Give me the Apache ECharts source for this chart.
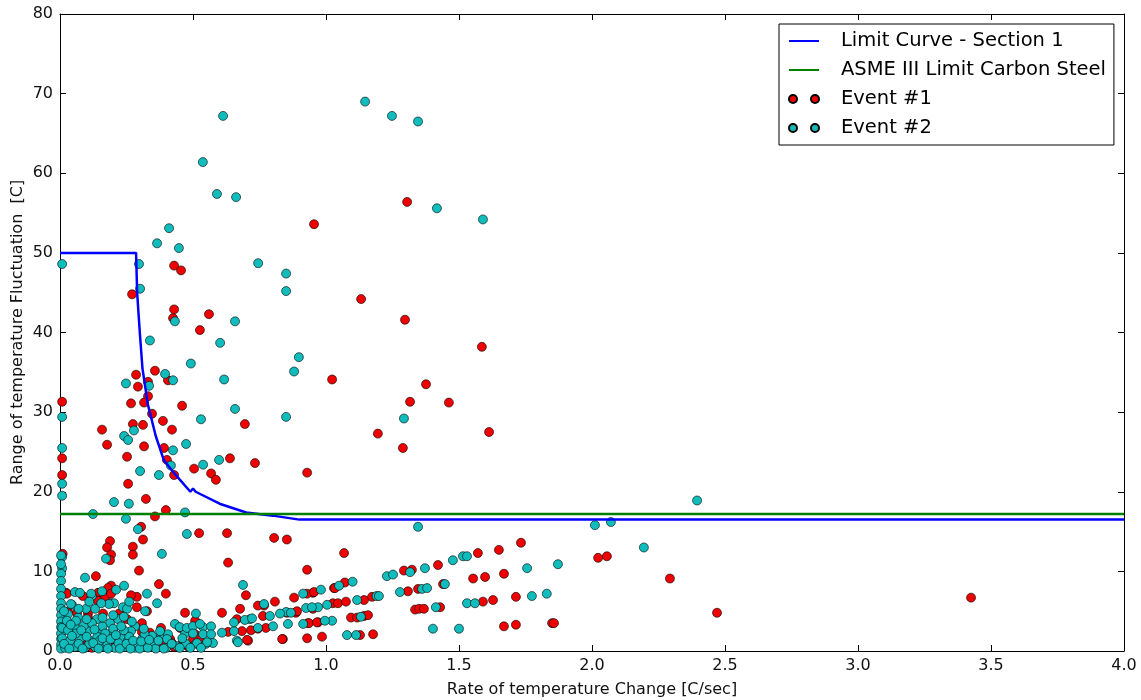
<!DOCTYPE html>
<html>
<head>
<meta charset="utf-8">
<script src="https://cdn.jsdelivr.net/npm/echarts@6/dist/echarts.min.js"></script>
<style>
  html, body { margin: 0; padding: 0; background: #fff; }
  #chart { width: 1141px; height: 700px; }
</style>
</head>
<body>
<div id="chart"></div>
<script>
// limit curve for section 1 [rate C/sec, range C]
const limitCurve = [
  [0, 50], [0.286, 50], [0.29, 45], [0.30, 40], [0.31, 35.5], [0.33, 31], [0.36, 27],
  [0.39, 24], [0.43, 22.3], [0.49, 20.0], [0.50, 20.4], [0.51, 20.0], [0.6, 18.5],
  [0.7, 17.4], [0.8, 17.0], [0.9, 16.5], [4.0, 16.5],
]
const asmeLimit = 17.2
const xRange = [0, 4]

const event1 = [
  [0.955, 53.6], [1.305, 56.4], [1.132, 44.2], [1.297, 41.6], [1.586, 38.2], [1.023, 34.1],
  [1.376, 33.5], [1.316, 31.3], [1.462, 31.2], [1.195, 27.3], [1.613, 27.5], [0.429, 48.4],
  [0.455, 47.8], [0.271, 44.8], [0.429, 42.9], [0.425, 41.8], [0.560, 42.3], [0.526, 40.3],
  [0.357, 35.2], [0.286, 34.7], [0.331, 33.8], [0.406, 34.0], [0.293, 33.2], [0.331, 32.0],
  [0.008, 31.3], [0.267, 31.1], [0.316, 31.2], [0.459, 30.8], [0.346, 29.8], [0.387, 28.9],
  [0.695, 28.5], [0.274, 28.5], [0.312, 28.4], [0.421, 27.8], [0.158, 27.8], [0.177, 25.9],
  [0.316, 25.7], [0.391, 25.5], [0.008, 24.2], [0.252, 24.4], [0.256, 21.0], [0.008, 22.1],
  [0.429, 22.1], [0.402, 24.0], [0.504, 22.9], [0.568, 22.3], [0.586, 21.5], [0.639, 24.2],
  [0.733, 23.6], [0.929, 22.4], [1.289, 25.5], [0.323, 19.1], [0.398, 17.7], [0.357, 16.9],
  [0.305, 15.6], [0.523, 14.8], [0.628, 14.8], [0.805, 14.2], [0.853, 14.0], [0.312, 14.0],
  [0.188, 13.8], [0.177, 13.0], [0.274, 13.1], [0.274, 12.1], [0.192, 12.1], [0.188, 11.4],
  [0.632, 11.1], [0.929, 10.2], [0.297, 10.1], [0.010, 12.2], [0.135, 9.4], [0.372, 8.4],
  [0.398, 7.2], [0.289, 6.8], [0.267, 7.0], [0.192, 8.2], [0.180, 7.7], [0.086, 6.9],
  [0.023, 7.3], [0.147, 7.3], [0.169, 6.7], [0.327, 5.0], [0.470, 4.8], [0.609, 4.8],
  [0.677, 5.3], [0.699, 7.0], [0.767, 5.7], [0.808, 6.2], [0.880, 6.7], [0.951, 7.3],
  [1.030, 7.9], [0.887, 4.8], [1.026, 6.0], [0.932, 3.5], [0.970, 3.6], [0.665, 4.0],
  [0.744, 2.8], [0.838, 1.5], [0.929, 1.6], [0.985, 1.8], [0.707, 1.3],
  [1.068, 12.3], [1.571, 12.3], [1.650, 12.7], [1.733, 13.6], [1.421, 10.8], [1.293, 10.1],
  [1.323, 10.2], [1.553, 9.1], [1.598, 9.3], [1.669, 9.7], [1.440, 8.4], [1.308, 7.5],
  [1.346, 7.8], [1.034, 7.9], [1.071, 8.6], [1.045, 6.0], [1.075, 6.2], [1.143, 6.4],
  [1.173, 6.8], [1.335, 5.2], [1.350, 5.3], [1.368, 5.3], [1.429, 5.5], [1.590, 6.2],
  [1.628, 6.4], [1.714, 6.8], [1.094, 4.2], [1.117, 4.2], [1.143, 4.4], [1.158, 4.5],
  [1.128, 2.0], [1.177, 2.1], [1.669, 3.1], [1.714, 3.3], [1.850, 3.5], [1.857, 3.5],
  [2.023, 11.7], [2.056, 11.9], [2.293, 9.1], [2.470, 4.8], [3.425, 6.7],
  [0.744, 5.7], [0.929, 7.2], [0.955, 7.4], [0.508, 3.8], [0.508, 2.1], [0.632, 2.4],
  [0.684, 2.5], [0.718, 2.6], [0.774, 2.9], [0.763, 4.4], [0.853, 4.8], [0.891, 5.0],
  [0.951, 5.3], [0.936, 3.5], [0.966, 3.6], [0.703, 1.4], [0.835, 1.5],
  [0.180, 7.9], [0.192, 7.2], [0.026, 7.2], [0.143, 7.3], [0.143, 6.3], [0.289, 5.5],
  [0.030, 4.9], [0.064, 4.8], [0.105, 4.7], [0.162, 4.7], [0.222, 4.7], [0.252, 4.0],
  [0.308, 2.4], [0.150, 2.6], [0.338, 2.3], [0.380, 2.9], [0.414, 1.5], [0.451, 2.9],
  [0.526, 1.6], [0.500, 1.5], [0.421, 1.0], [0.387, 0.9], [0.357, 0.4], [0.105, 4.2],
  [0.158, 2.5], [0.308, 3.5], [0.36, 0.5], [0.38, 0.6], [0.40, 0.9], [0.43, 0.5],
  [0.46, 0.9], [0.48, 0.6], [0.02, 1.0], [0.05, 0.6], [0.10, 1.2], [0.20, 0.5], [0.24, 1.5],
  [0.09, 2.0], [0.27, 0.9], [0.33, 1.1], [0.12, 0.4],
]

const event2 = [
  [0.613, 67.2], [0.537, 61.4], [0.590, 57.4], [0.662, 57.0], [1.147, 69.0], [1.248, 67.2],
  [1.346, 66.5], [0.410, 53.1], [0.365, 51.2], [0.447, 50.6], [1.417, 55.6], [1.590, 54.2],
  [0.850, 47.4], [0.850, 45.2], [0.898, 36.9], [0.880, 35.1], [0.850, 29.4], [1.293, 29.2],
  [0.745, 48.7], [0.008, 48.6], [0.297, 48.6], [0.301, 45.5], [0.432, 41.4], [0.658, 41.4],
  [0.338, 39.0], [0.602, 38.7], [0.492, 36.1], [0.395, 34.8], [0.425, 34.0], [0.617, 34.1],
  [0.248, 33.6], [0.335, 33.3], [0.658, 30.4], [0.008, 29.4], [0.530, 29.1], [0.241, 27.0],
  [0.278, 27.7], [0.256, 26.5], [0.474, 26.0], [0.425, 25.2], [0.008, 25.5], [0.301, 22.6],
  [0.008, 21.0], [0.008, 19.5], [0.372, 22.1], [0.417, 23.3], [0.538, 23.4], [0.598, 24.0],
  [0.203, 18.7], [0.259, 18.5], [0.124, 17.2], [0.248, 16.6], [0.470, 17.4], [0.293, 15.3],
  [0.477, 14.7], [0.173, 11.6], [0.383, 12.2], [0.008, 11.8], [0.008, 10.4], [0.094, 9.2],
  [1.346, 15.6], [2.011, 15.8], [2.071, 16.2], [2.195, 13.0], [1.872, 10.9], [1.756, 10.4],
  [1.830, 7.2], [1.774, 6.9], [2.395, 18.9],
  [1.477, 11.4], [1.515, 11.9], [1.530, 11.9], [1.229, 9.4], [1.252, 9.6], [1.316, 9.9],
  [1.372, 10.4], [1.447, 8.4], [1.278, 7.4], [1.361, 7.8], [1.380, 7.9], [1.100, 8.7],
  [1.117, 6.4], [1.190, 6.9], [1.199, 6.9], [1.413, 5.5], [1.530, 6.0], [1.560, 6.0],
  [1.131, 4.3], [1.079, 2.0], [1.113, 2.0], [1.402, 2.8], [1.500, 2.8],
  [0.688, 8.3], [0.767, 5.9], [0.914, 7.2], [0.981, 7.7], [1.049, 8.2], [0.850, 4.9],
  [0.925, 5.4], [0.970, 5.5], [1.004, 5.8], [0.857, 3.4], [0.914, 3.4], [1.023, 3.8],
  [0.714, 4.0], [0.801, 3.1], [0.665, 1.3], [0.609, 2.3], [0.654, 2.5], [0.511, 4.7],
  [0.492, 2.8], [0.538, 3.0], [0.568, 3.1], [0.538, 2.1], [0.568, 2.1], [0.575, 1.0],
  [0.549, 0.9], [0.511, 0.9], [0.744, 2.9], [0.654, 3.6], [0.695, 3.9], [0.722, 4.1],
  [0.789, 4.4], [0.827, 4.7], [0.868, 4.8], [0.947, 5.5], [0.669, 1.1], [0.996, 3.8],
  [0.004, 12.0], [0.004, 10.9], [0.004, 9.7], [0.004, 8.8], [0.004, 7.8], [0.004, 6.9],
  [0.004, 6.0], [0.004, 5.3], [0.004, 4.5], [0.004, 3.7], [0.004, 3.0], [0.004, 2.2],
  [0.004, 1.5], [0.004, 0.8], [0.004, 0.3],
  [0.056, 7.4], [0.120, 6.9], [0.158, 7.5], [0.192, 6.0], [0.045, 5.8], [0.075, 7.3],
  [0.117, 7.2], [0.203, 6.0], [0.320, 5.0], [0.041, 5.9], [0.030, 4.6], [0.098, 5.3],
  [0.132, 5.3], [0.139, 4.0], [0.184, 5.9], [0.237, 5.5], [0.252, 5.3], [0.218, 4.0],
  [0.282, 3.1], [0.267, 2.5], [0.188, 3.5], [0.056, 3.0], [0.105, 2.5], [0.150, 2.1],
  [0.199, 2.5], [0.233, 1.6], [0.256, 1.3], [0.308, 1.5], [0.346, 1.9], [0.318, 2.1],
  [0.380, 2.1], [0.406, 2.1], [0.432, 3.4], [0.211, 7.7], [0.241, 8.2], [0.327, 7.2],
  [0.365, 6.0], [0.019, 0.4], [0.056, 0.5], [0.094, 0.4], [0.132, 0.5], [0.169, 0.5],
  [0.207, 0.4], [0.244, 0.5], [0.282, 0.4], [0.320, 0.5], [0.008, 1.6], [0.038, 1.3],
  [0.075, 1.5], [0.113, 1.3], [0.177, 1.0], [0.008, 2.9], [0.026, 3.8], [0.068, 4.2],
  [0.090, 3.2], [0.120, 3.5], [0.160, 3.1], [0.200, 2.8], [0.220, 1.0], [0.260, 1.8],
  [0.290, 0.9], [0.350, 1.0], [0.360, 0.3], [0.400, 0.4], [0.440, 0.6], [0.470, 2.2],
  [0.450, 3.0], [0.376, 2.5], [0.402, 1.5], [0.477, 2.9], [0.500, 3.1], [0.526, 3.4],
  [0.474, 0.9], [0.515, 1.0], [0.553, 1.1], [0.060, 2.2], [0.140, 1.8], [0.030, 2.6],
  [0.170, 2.2], [0.110, 0.9], [0.150, 1.3], [0.240, 2.6], [0.270, 3.7],
  [0.015, 0.9], [0.035, 0.3], [0.045, 1.9], [0.070, 0.9], [0.080, 2.6], [0.085, 0.3],
  [0.100, 1.8], [0.125, 1.0], [0.130, 2.7], [0.145, 0.3], [0.160, 1.6], [0.180, 0.3],
  [0.190, 1.5], [0.210, 2.0], [0.225, 0.3], [0.230, 3.1], [0.250, 0.9], [0.265, 0.3],
  [0.275, 1.3], [0.300, 0.3], [0.305, 1.2], [0.315, 2.8], [0.330, 0.4], [0.335, 1.4],
  [0.370, 1.3], [0.390, 0.3], [0.420, 0.9], [0.450, 0.4], [0.460, 1.6], [0.490, 0.4],
  [0.500, 2.2], [0.530, 0.4], [0.060, 3.8], [0.100, 4.0], [0.160, 4.2], [0.200, 4.5],
  [0.240, 4.3], [0.015, 5.0], [0.070, 5.3], [0.040, 3.3], [0.110, 6.2], [0.155, 6.0],
  [0.260, 6.2],
]

const font = 'DejaVu Sans'
const twoDots = 'path://M0,4a4,4 0 1,0 8,0a4,4 0 1,0 -8,0M22,4a4,4 0 1,0 8,0a4,4 0 1,0 -8,0'

const chart = echarts.init(document.getElementById('chart'), null, { renderer: 'canvas' })

const axisBase = {
  type: 'value',
  axisLine: { show: true, onZero: false, lineStyle: { color: '#000', width: 1 } },
  axisTick: { show: true, inside: true, length: 6, lineStyle: { color: '#000' } },
  splitLine: { show: false },
}

chart.setOption({
  backgroundColor: '#fff',
  animation: false,
  textStyle: { fontFamily: font },
  grid: { left: 60, right: 17, top: 14, bottom: 49, outerBoundsMode: 'none', containLabel: false },
  legend: {
    orient: 'vertical',
    left: 779,
    top: 24,
    padding: [7, 8, 7, 9],
    itemGap: 9,
    itemWidth: 30,
    itemHeight: 8,
    backgroundColor: '#fff',
    borderColor: '#000',
    borderWidth: 1,
    textStyle: { fontSize: 19.5, color: '#000', padding: [0, 0, 0, 17] },
    data: [
      { name: 'Limit Curve - Section 1', itemStyle: { opacity: 0 } },
      { name: 'ASME III Limit Carbon Steel', itemStyle: { opacity: 0 } },
      { name: 'Event #1', icon: twoDots },
      { name: 'Event #2', icon: twoDots },
    ],
  },
  xAxis: [
    {
      ...axisBase,
      min: xRange[0], max: xRange[1], interval: 0.5, position: 'bottom',
      axisLabel: { fontSize: 16, color: '#111', margin: 7, formatter: v => v.toFixed(1) },
      name: 'Rate of temperature Change [C/sec]',
      nameLocation: 'middle',
      nameGap: 31,
      nameTextStyle: { fontSize: 16, color: '#111' },
    },
    {
      ...axisBase,
      min: xRange[0], max: xRange[1], interval: 0.5, position: 'top',
      axisLabel: { show: false },
    },
  ],
  yAxis: [
    {
      ...axisBase,
      min: 0, max: 80, interval: 10, position: 'left',
      axisLabel: { fontSize: 16, color: '#111', margin: 7 },
      name: 'Range of temperature Fluctuation  [C]',
      nameLocation: 'middle',
      nameGap: 34,
      nameMoveOverlap: false,
      nameTextStyle: { fontSize: 16, color: '#111' },
    },
    {
      ...axisBase,
      min: 0, max: 80, interval: 10, position: 'right',
      axisLabel: { show: false },
    },
  ],
  series: [
    {
      name: 'Limit Curve - Section 1',
      type: 'line',
      data: limitCurve,
      showSymbol: false,
      symbol: 'none',
      lineStyle: { color: '#0000ff', width: 2.5 },
      itemStyle: { color: '#0000ff' },
    },
    {
      name: 'ASME III Limit Carbon Steel',
      type: 'line',
      data: xRange.map(x => [x, asmeLimit]),
      showSymbol: false,
      symbol: 'none',
      lineStyle: { color: '#008000', width: 2.5 },
      itemStyle: { color: '#008000' },
    },
    {
      name: 'Event #1',
      type: 'scatter',
      data: event1,
      symbol: 'circle',
      symbolSize: 9,
      itemStyle: { color: '#ee0000', borderColor: '#000', borderWidth: 0.6, opacity: 1 },
    },
    {
      name: 'Event #2',
      type: 'scatter',
      data: event2,
      symbol: 'circle',
      symbolSize: 9,
      itemStyle: { color: '#10bcbc', borderColor: '#000', borderWidth: 0.6, opacity: 1 },
    },
  ],
})
</script>
</body>
</html>
